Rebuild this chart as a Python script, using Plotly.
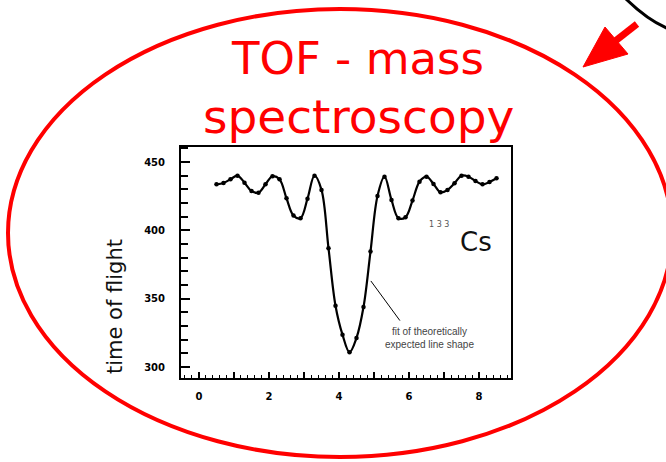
import plotly.graph_objects as go

# ---- data ----
flight_x = [0.5, 0.7, 0.9, 1.1, 1.3, 1.5, 1.7, 1.9, 2.1, 2.3, 2.5, 2.7, 2.9, 3.1,
            3.3, 3.5, 3.7, 3.9, 4.1, 4.3, 4.5, 4.7, 4.9, 5.1, 5.3, 5.5, 5.7, 5.9,
            6.1, 6.3, 6.5, 6.7, 6.9, 7.1, 7.3, 7.5, 7.7, 7.9, 8.1, 8.3, 8.5]
flight_time = [433.7, 434.7, 437.4, 440.0, 434.9, 428.8, 427.6, 433.7, 439.6, 437.4,
               423.5, 410.8, 408.9, 423.2, 440.0, 429.6, 387.0, 344.9, 323.7, 310.8,
               321.3, 343.9, 384.5, 425.2, 439.3, 422.3, 408.9, 409.6, 421.8, 435.6,
               439.3, 434.0, 427.9, 429.6, 434.5, 440.0, 439.3, 436.1, 433.7, 435.4, 438.1]
x_tick_vals = [0, 1, 2, 3, 4, 5, 6, 7, 8]
x_tick_text = ["0", "", "2", "", "4", "", "6", "", "8"]
y_tick_vals = [300, 350, 400, 450]
y_tick_text = ["300", "350", "400", "450"]

W, H = 666, 462
PL, PR, PT, PB = 181, 511, 147, 378


def px(x, y):
    """image pixel -> paper coords"""
    return (x - PL) / (PR - PL), (PB - y) / (PB - PT)


fig = go.Figure()
fig.add_trace(go.Scatter(
    x=flight_x, y=flight_time, mode="lines+markers",
    line=dict(color="black", width=2.2, shape="spline", smoothing=1.0),
    marker=dict(color="black", size=4.5, symbol="circle"),
    hoverinfo="skip", showlegend=False))

# pointer line for the fit label
fig.add_shape(type="line", xref="x", yref="y", x0=4.91, y0=363.0, x1=5.74, y1=334.0,
              line=dict(color="black", width=1))

shapes = []
# red ellipse
ex0, ey0 = px(8, 457)
ex1, ey1 = px(672, 9)
shapes.append(dict(type="circle", xref="paper", yref="paper", x0=ex0, y0=ey0, x1=ex1, y1=ey1,
                   line=dict(color="#ff0000", width=4)))
# red arrow shaft
s0 = px(637, 24)
s1 = px(614, 42)
shapes.append(dict(type="line", xref="paper", yref="paper", x0=s0[0], y0=s0[1], x1=s1[0], y1=s1[1],
                   line=dict(color="#ff0000", width=7)))
# red arrow head
t = px(583, 67); b1 = px(605, 27); b2 = px(628, 54)
shapes.append(dict(type="path", xref="paper", yref="paper",
                   path=f"M {t[0]} {t[1]} L {b1[0]} {b1[1]} L {b2[0]} {b2[1]} Z",
                   fillcolor="#ff0000", line=dict(color="#ff0000", width=1)))
# black arc at top right
a0 = px(624, -3); ac = px(647.5, 20.5); a1 = px(669, 29)
shapes.append(dict(type="path", xref="paper", yref="paper",
                   path=f"M {a0[0]} {a0[1]} Q {ac[0]} {ac[1]} {a1[0]} {a1[1]}",
                   line=dict(color="black", width=3)))
for s in shapes:
    fig.add_shape(**s)

ann = []
tx, ty = px(357, 58)
ann.append(dict(text="TOF - mass", x=tx, y=ty, font=dict(family="DejaVu Sans", size=45, color="#ff0000")))
tx, ty = px(358, 117)
ann.append(dict(text="spectroscopy", x=tx, y=ty, font=dict(family="DejaVu Sans", size=47, color="#ff0000")))
tx, ty = px(115, 307)
ann.append(dict(text="time of flight", x=tx, y=ty, textangle=-90,
                font=dict(family="DejaVu Sans", size=21, color="#111111")))
tx, ty = px(439, 224)
ann.append(dict(text="1 3 3", x=tx, y=ty, font=dict(family="DejaVu Sans", size=8, color="#555555")))
tx, ty = px(476, 242)
ann.append(dict(text="Cs", x=tx, y=ty, font=dict(family="DejaVu Sans", size=26, color="#111111")))
tx, ty = px(429, 338)
ann.append(dict(text="fit of theoretically<br>expected line shape", x=tx, y=ty,
                font=dict(family="Liberation Sans", size=10, color="#444444")))
for a in ann:
    fig.add_annotation(xref="paper", yref="paper", showarrow=False,
                       xanchor="center", yanchor="middle", **a)

fig.update_layout(
    width=W, height=H, margin=dict(l=PL, r=W - PR, t=PT, b=H - PB, pad=0),
    paper_bgcolor="white", plot_bgcolor="white",
    xaxis=dict(range=[-0.514, 8.914], tickvals=x_tick_vals, ticktext=x_tick_text,
               ticks="inside", ticklen=6, tickwidth=1.5, tickcolor="black",
               minor=dict(dtick=0.2, ticks="inside", ticklen=3, tickcolor="black", tickwidth=1),
               showline=True, linecolor="black", linewidth=2, mirror=True,
               showgrid=False, zeroline=False, ticklabelstandoff=8,
               tickfont=dict(family="DejaVu Sans", size=10, color="black", weight="bold")),
    yaxis=dict(range=[292, 461], tickvals=y_tick_vals, ticktext=y_tick_text,
               ticks="inside", ticklen=9, tickwidth=2, tickcolor="black",
               minor=dict(dtick=10, ticks="inside", ticklen=7, tickcolor="black", tickwidth=1.5),
               showline=True, linecolor="black", linewidth=2, mirror=True,
               showgrid=False, zeroline=False, ticklabelstandoff=12,
               tickfont=dict(family="DejaVu Sans", size=10, color="black", weight="bold")),
)
fig.write_html("out.html")
